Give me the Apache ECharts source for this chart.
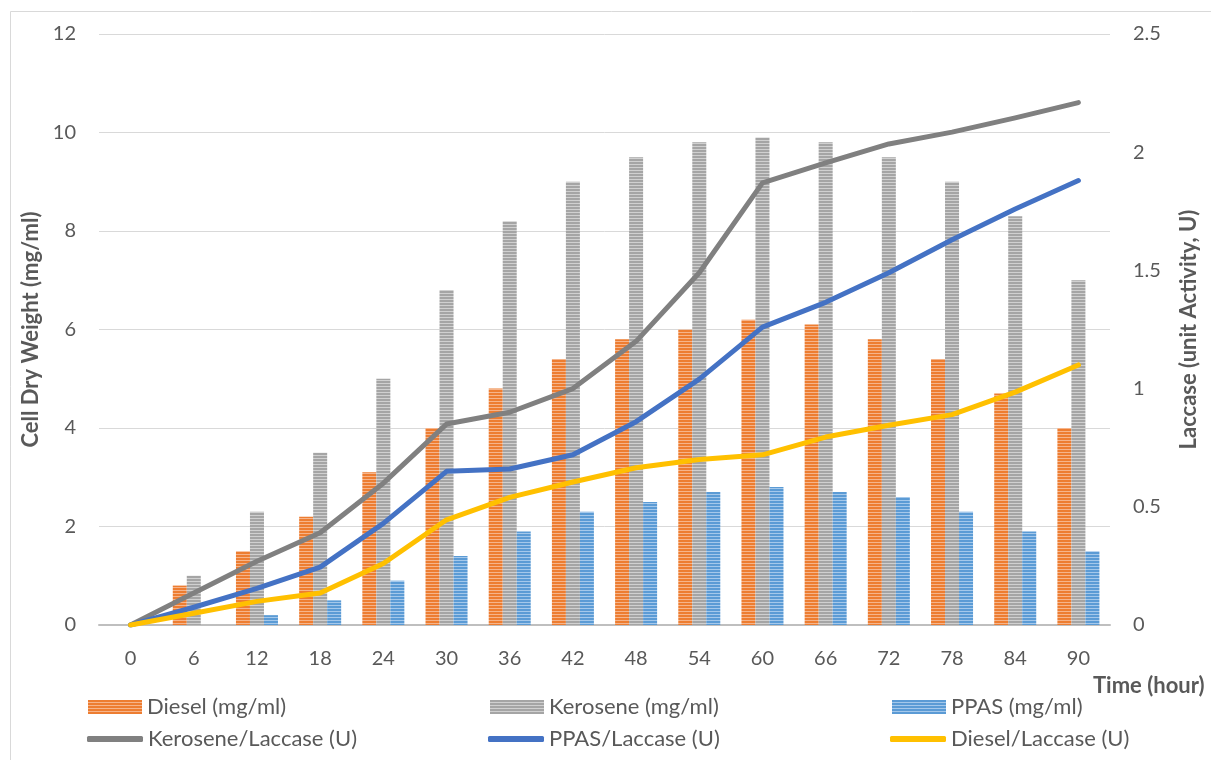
<!DOCTYPE html>
<html>
<head>
<meta charset="utf-8">
<script src="https://cdn.jsdelivr.net/npm/echarts@6/dist/echarts.min.js"></script>
<style>
  html, body { margin: 0; padding: 0; background: #ffffff; }
  #chart { width: 1211px; height: 760px; }
</style>
</head>
<body>
<div id="chart"></div>
<script>
// Sampling times (hours)
const hours = ['0', '6', '12', '18', '24', '30', '36', '42', '48', '54', '60', '66', '72', '78', '84', '90'];

// Cell dry weight (mg/ml), left axis
const dieselCdw   = [0, 0.8, 1.5, 2.2, 3.1, 4.0, 4.8, 5.4, 5.8, 6.0, 6.2, 6.1, 5.8, 5.4, 4.7, 4.0];
const keroseneCdw = [0, 1.0, 2.3, 3.5, 5.0, 6.8, 8.2, 9.0, 9.5, 9.8, 9.9, 9.8, 9.5, 9.0, 8.3, 7.0];
const ppasCdw     = [0, 0, 0.2, 0.5, 0.9, 1.4, 1.9, 2.3, 2.5, 2.7, 2.8, 2.7, 2.6, 2.3, 1.9, 1.5];

// Laccase activity (U), right axis
const keroseneLaccase = [0, 0.135, 0.27, 0.39, 0.60, 0.85, 0.90, 1.0, 1.20, 1.49, 1.87, 1.955, 2.035, 2.085, 2.145, 2.21];
const ppasLaccase     = [0, 0.075, 0.155, 0.245, 0.43, 0.65, 0.66, 0.72, 0.86, 1.04, 1.26, 1.365, 1.49, 1.63, 1.76, 1.88];
const dieselLaccase   = [0, 0.05, 0.10, 0.135, 0.26, 0.445, 0.54, 0.605, 0.665, 0.70, 0.72, 0.795, 0.845, 0.89, 0.985, 1.10];

const FONT = 'Lato, "Open Sans", sans-serif';
const TEXT = '#595959';

// Horizontal-stripe fill for the bars
function stripes(base, light) {
  const c = document.createElement('canvas');
  c.width = 4; c.height = 3;
  const ctx = c.getContext('2d');
  ctx.fillStyle = base; ctx.fillRect(0, 0, 4, 3);
  ctx.fillStyle = light; ctx.fillRect(0, 2, 4, 1);
  return { image: c, repeat: 'repeat' };
}

const chart = echarts.init(document.getElementById('chart'), null, { renderer: 'canvas' });

// One legend entry per box so bars get a striped block and lines a thick rounded stroke
function barLegend(left, name) {
  return {
    left: left, top: 696, padding: 0,
    itemWidth: 54, itemHeight: 14, icon: 'rect',
    textStyle: { fontFamily: FONT, fontSize: 22, lineHeight: 22, color: TEXT },
    data: [name]
  };
}
function lineLegend(left, name) {
  return {
    left: left, top: 728, padding: 0,
    itemWidth: 56, itemHeight: 6, icon: 'roundRect',
    textStyle: { fontFamily: FONT, fontSize: 22, lineHeight: 22, color: TEXT },
    data: [name]
  };
}

function barSeries(name, data, fill) {
  return {
    name: name, type: 'bar', yAxisIndex: 0, data: data,
    barWidth: 14, barGap: '0%',
    itemStyle: { color: fill },
    emphasis: { disabled: true }
  };
}

function lineSeries(name, data, color) {
  return {
    name: name, type: 'line', yAxisIndex: 1, data: data,
    symbol: 'none', smooth: false,
    lineStyle: { color: color, width: 5, cap: 'round', join: 'round' },
    itemStyle: { color: color },
    emphasis: { disabled: true }
  };
}

chart.setOption({
  backgroundColor: '#ffffff',
  animation: false,
  graphic: [{
    type: 'rect', silent: true, z: -10,
    shape: { x: 10.5, y: 11.5, width: 1230, height: 780 },
    style: { fill: 'none', stroke: '#D9D9D9', lineWidth: 1 }
  }],
  legend: [
    barLegend(88, 'Diesel (mg/ml)'),
    barLegend(490, 'Kerosene (mg/ml)'),
    barLegend(892, 'PPAS (mg/ml)'),
    lineLegend(87, 'Kerosene/Laccase (U)'),
    lineLegend(488, 'PPAS/Laccase (U)'),
    lineLegend(890, 'Diesel/Laccase (U)')
  ],
  grid: { left: 99, right: 101, top: 34, bottom: 135, containLabel: false },
  xAxis: {
    type: 'category', data: hours,
    name: 'Time (hour)', nameLocation: 'end', nameGap: -17,
    nameTextStyle: {
      fontFamily: FONT, fontSize: 22, fontWeight: 'bold', color: TEXT,
      align: 'left', verticalAlign: 'top', padding: [50, 0, 0, 0]
    },
    axisTick: { show: false },
    axisLine: { lineStyle: { color: '#BFBFBF', width: 2 } },
    axisLabel: { fontFamily: FONT, fontSize: 20, color: TEXT, margin: 24 }
  },
  yAxis: [{
    type: 'value', min: 0, max: 12, interval: 2, position: 'left',
    name: 'Cell Dry Weight (mg/ml)', nameLocation: 'middle', nameGap: 56, nameRotate: 90,
    nameTextStyle: { fontFamily: FONT, fontSize: 22, fontWeight: 'bold', color: TEXT },
    axisLine: { show: false }, axisTick: { show: false },
    axisLabel: { fontFamily: FONT, fontSize: 20, color: TEXT, margin: 23 },
    splitLine: { lineStyle: { color: '#D9D9D9', width: 1 } }
  }, {
    type: 'value', min: 0, max: 2.5, interval: 0.5, position: 'right',
    name: 'Laccase (unit Activity, U)', nameLocation: 'middle', nameGap: 68, nameRotate: 90,
    nameTextStyle: { fontFamily: FONT, fontSize: 22, fontWeight: 'bold', color: TEXT },
    axisLine: { show: false }, axisTick: { show: false },
    axisLabel: { fontFamily: FONT, fontSize: 20, color: TEXT, margin: 23 },
    splitLine: { show: false }
  }],
  series: [
    barSeries('Diesel (mg/ml)', dieselCdw, stripes('#ED7D31', '#F6B48A')),
    barSeries('Kerosene (mg/ml)', keroseneCdw, stripes('#A5A5A5', '#D0D0D0')),
    barSeries('PPAS (mg/ml)', ppasCdw, stripes('#5B9BD5', '#A4C8EB')),
    lineSeries('Kerosene/Laccase (U)', keroseneLaccase, '#808080'),
    lineSeries('PPAS/Laccase (U)', ppasLaccase, '#4472C4'),
    lineSeries('Diesel/Laccase (U)', dieselLaccase, '#FFC000')
  ]
});
</script>
</body>
</html>
